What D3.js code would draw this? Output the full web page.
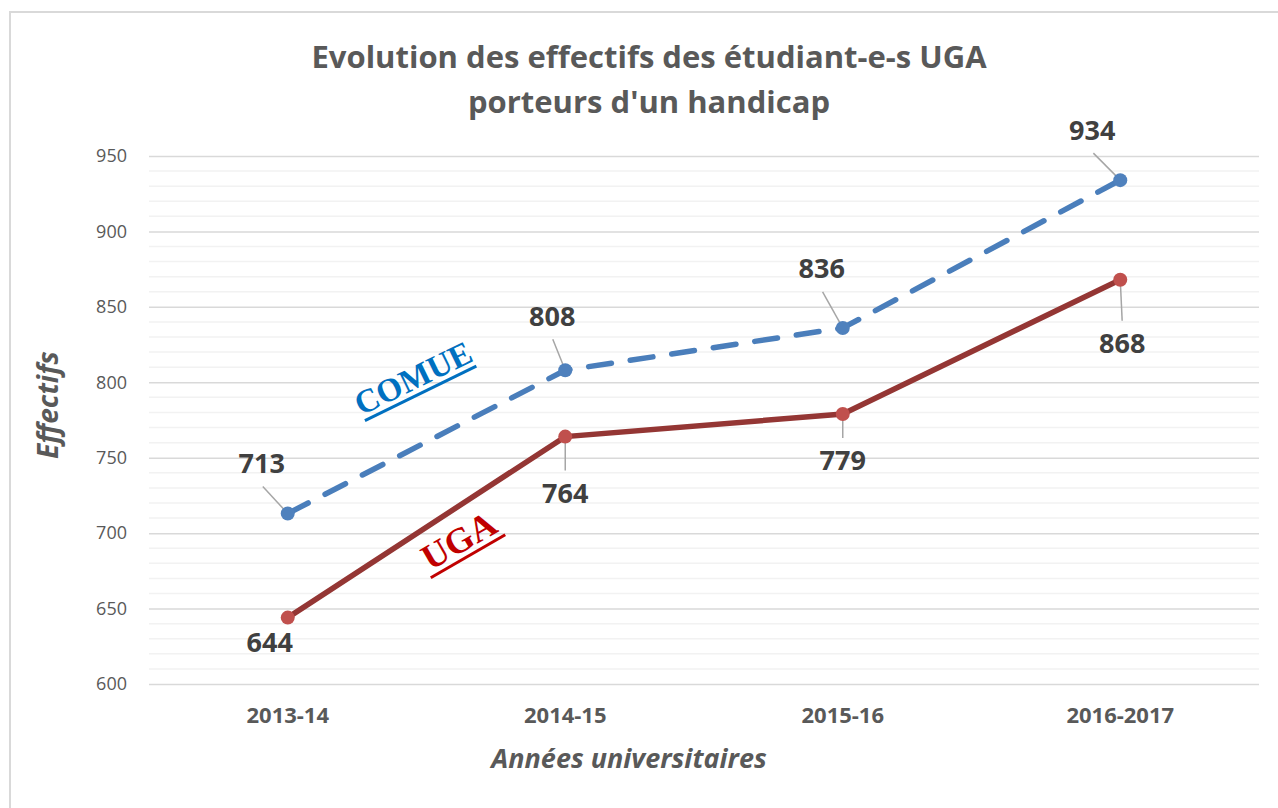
<!DOCTYPE html>
<html><head><meta charset="utf-8">
<script src="https://cdn.jsdelivr.net/npm/d3@7"></script>
<style>
html,body{margin:0;padding:0;background:#fff;}
svg{display:block;}
</style></head>
<body>
<svg id="chart" width="1278" height="808"></svg>
<script>
const categories = ["2013-14","2014-15","2015-16","2016-2017"];
const comueValues = [713, 808, 836, 934];
const ugaValues = [644, 764, 779, 868];
const yTicks = [600, 650, 700, 750, 800, 850, 900, 950];
const titleLines = ["Evolution des effectifs des étudiant-e-s UGA", "porteurs d'un handicap"];

const svg = d3.select("#chart");
const W = 1278, H = 808;
const font = "'Open Sans', 'Liberation Sans', sans-serif";

// outer border
svg.append("rect").attr("x",10).attr("y",12).attr("width",W+10).attr("height",H+10)
  .attr("fill","#fff").attr("stroke","#d9d9d9").attr("stroke-width",2);

const plot = {left:149, right:1259, top:156, bottom:684};
const x = d3.scaleBand().domain(categories).range([plot.left, plot.right]);
const y = d3.scaleLinear().domain([600,950]).range([plot.bottom, plot.top]);
const cx = c => x(c) + x.bandwidth()/2;

// minor grid
const minor = d3.range(600, 951, 10).filter(v => v % 50 !== 0);
svg.append("g").selectAll("line").data(minor).join("line")
  .attr("x1",plot.left).attr("x2",plot.right)
  .attr("y1",d=>y(d)).attr("y2",d=>y(d))
  .attr("stroke","#f2f2f2").attr("stroke-width",1.5);

// y axis with major grid
const yAxis = d3.axisLeft(y).tickValues(yTicks).tickSize(-(plot.right-plot.left)).tickPadding(22);
const gy = svg.append("g").attr("transform",`translate(${plot.left},0)`).call(yAxis);
gy.select(".domain").remove();
gy.selectAll(".tick line").attr("stroke","#d9d9d9").attr("stroke-width",1.5);
gy.selectAll(".tick text").attr("fill","#595959").style("font-family",font).style("font-size","18px");

// x axis
const xAxis = d3.axisBottom(x).tickSize(0).tickPadding(23);
const gx = svg.append("g").attr("transform",`translate(0,${plot.bottom})`).call(xAxis);
gx.select(".domain").remove();
gx.selectAll(".tick text").attr("fill","#595959").style("font-family",font)
  .style("font-size","22px").style("font-weight","bold");

// title
const title = svg.append("text").attr("text-anchor","middle").attr("fill","#595959")
  .style("font-family",font).style("font-size","31px").style("font-weight","bold");
title.selectAll("tspan").data(titleLines).join("tspan")
  .attr("x",649).attr("y",(d,i)=>68+i*45).text(d=>d);

// axis titles
svg.append("text").attr("transform","translate(58,405) rotate(-90)").attr("text-anchor","middle")
  .attr("fill","#595959").style("font-family",font).style("font-size","28px")
  .style("font-weight","bold").style("font-style","italic").text("Effectifs");
svg.append("text").attr("x",629).attr("y",768).attr("text-anchor","middle")
  .attr("fill","#595959").style("font-family",font).style("font-size","27px")
  .style("font-weight","bold").style("font-style","italic").text("Années universitaires");

// lines
const line = d3.line().x((d,i)=>cx(categories[i])).y(d=>y(d));
svg.append("path").datum(comueValues).attr("d",line).attr("fill","none")
  .attr("stroke","#4a7ebb").attr("stroke-width",5.5).attr("stroke-linecap","round")
  .attr("stroke-dasharray","23 19");
svg.append("path").datum(ugaValues).attr("d",line).attr("fill","none")
  .attr("stroke","#943634").attr("stroke-width",5.5);

// leader lines + labels
const comueOff = [[-26,-50],[-13,-54],[-21,-59],[-28,-50]];
const ugaOff = [[-18,25],[0,57],[0,47],[2,64]];

function drawLabels(vals, offs, leader){
  vals.forEach((v,i)=>{
    const px = cx(categories[i]), py = y(v);
    const [dx,dy] = offs[i];
    if(leader[i]){
      const sy = dy<0 ? py+dy+23 : py+dy-23;
      svg.append("line").attr("x1",px+dx*0.96).attr("y1",sy).attr("x2",px).attr("y2",py)
        .attr("stroke","#a6a6a6").attr("stroke-width",1.5);
    }
    svg.append("text").attr("x",px+dx).attr("y",py+dy).attr("dy","0.35em")
      .attr("text-anchor","middle").attr("fill","#404040").style("font-family",font)
      .style("font-size","27px").style("font-weight","bold").text(v);
  });
}
drawLabels(comueValues, comueOff, [true,true,true,true]);
drawLabels(ugaValues, ugaOff, [false,true,true,true]);

// markers
svg.append("g").selectAll("circle").data(comueValues).join("circle")
  .attr("cx",(d,i)=>cx(categories[i])).attr("cy",d=>y(d)).attr("r",7).attr("fill","#4f81bd");
svg.append("g").selectAll("circle").data(ugaValues).join("circle")
  .attr("cx",(d,i)=>cx(categories[i])).attr("cy",d=>y(d)).attr("r",7).attr("fill","#c0504d");

// series annotations
function seriesLabel(txt, xx, yy, col, w, ang, fs){
  const g = svg.append("g").attr("transform",`translate(${xx},${yy}) rotate(${ang})`);
  g.append("text").attr("text-anchor","middle").attr("fill",col)
    .style("font-family","'Liberation Serif', 'DejaVu Serif', serif").style("font-size",fs+"px")
    .style("font-weight","bold").text(txt);
  g.append("line").attr("x1",-w/2).attr("x2",w/2).attr("y1",6).attr("y2",6)
    .attr("stroke",col).attr("stroke-width",3);
}
seriesLabel("COMUE", 418, 388, "#0070c0", 124, -26, 33);
seriesLabel("UGA", 465, 551, "#c00000", 86, -30, 36);
</script>
</body></html>
